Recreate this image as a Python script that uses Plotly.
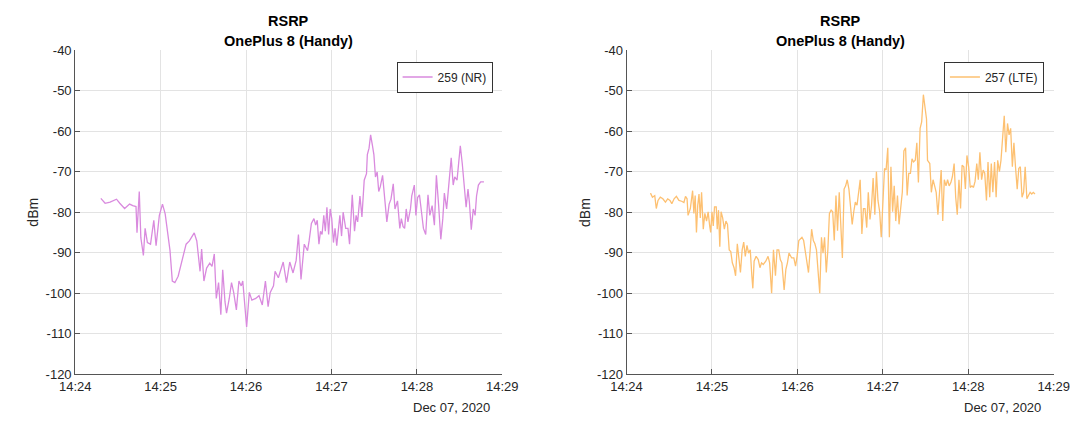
import pandas as pd
import plotly.graph_objects as go

# ---------------- data ----------------
START = "2020-12-07 14:24:00"
END = "2020-12-07 14:29:00"

# NR (259) – seconds after 14:24:00 and RSRP in dBm
nr_sec = [18, 21, 24.5, 29, 31.3, 34.7, 38.2, 40.4, 42.7,
          43.4, 45, 46.1, 47.9, 49.1, 50.7, 52.9, 55.2, 56.8, 59.1,
          61.3, 63.2, 65.4, 66.6, 68.2, 70, 72.3, 74.5, 76.3, 77.9,
          80.2, 83.6, 85.4, 87.7, 88.8, 90.4, 92.3, 94.5, 96.1, 97.7,
          99.1, 100.7, 102.3, 103.6, 105.2, 106.3, 108.2, 109.8, 111.3, 113.2,
          115, 116.6, 117.7, 118.9, 120.4, 122.3, 124.1, 126.8, 129.1, 131.4,
          133.6, 135.5, 137, 139.3, 140.4, 142.7, 146.1, 148.4, 150.7, 153,
          155.2, 156.8, 158.6, 160.9,
          163.2, 164.3, 165.9, 167.7, 168.9, 170, 171.2, 172.3, 173.4, 174.6,
          175.7, 176.8, 178, 179.1, 180.2, 181.4, 182.5, 183.7, 184.8, 185.9,
          187.1, 188.2, 190, 191.6, 192.7, 194.6, 196.2, 197.3, 198.4, 200,
          201.4, 203, 204.6, 205.2, 206.4, 207.5, 208.7, 209.8, 210.9, 212.1,
          213.2, 214.3, 215.9, 217.8, 218.9, 220.5, 221.8, 223.4, 224.6, 226.4,
          228, 229.1, 230.3, 231.4, 232.5, 233.7, 235.5, 236.4, 238.2, 239.3,
          240.5, 241.8, 243.2, 244.6, 246.2, 247.8, 249.1, 250.7, 252.3, 253.7,
          255.3, 256.8, 258.2, 259.3, 260.9, 262.8, 264.1, 265.5, 266.6, 268.2,
          269.6, 270.5, 271.9, 273, 274.6, 275.9, 276.9, 278.2, 279.6, 280.9,
          281.9, 283.2, 284.8, 287.1]
nr_dbm = [-76.6, -77.8, -77.5, -76.8, -77.8, -79.1, -78.0, -78.4, -78.6,
          -85.1, -74.9, -86.3, -90.7, -84.0, -87.5, -87.9, -82.0, -88.3, -80.8,
          -78.0, -80.4, -87.1, -89.5, -97.0, -97.4, -95.8, -92.6, -90.3, -87.9,
          -87.1, -85.1, -87.1, -94.6, -89.1, -97.0, -93.8, -92.6, -93.4, -90.3,
          -101.3, -97.4, -105.3, -94.2, -102.1, -104.9, -101.3, -97.4, -99.8, -104.1,
          -97.0, -98.2, -97.0, -102.1, -108.3, -99.8, -101.7, -101.3, -100.6, -102.9,
          -97.0, -103.3, -99.8, -98.2, -94.6, -96.2, -92.3, -97.4, -92.3, -95.0,
          -91.9, -85.5, -96.6, -87.9,
          -89.5, -87.1, -82.8, -81.6, -83.2, -82.0, -87.9, -84.7, -85.5, -80.8,
          -84.7, -78.8, -85.5, -79.2, -81.6, -87.5, -84.0, -88.3, -84.3, -80.8,
          -85.9, -80.0, -84.0, -84.0, -87.9, -75.7, -84.7, -80.8, -82.4, -76.0,
          -81.2, -72.1, -70.5, -65.8, -64.2, -60.9, -63.4, -65.8, -71.3, -70.1,
          -74.9, -73.7, -70.9, -79.2, -82.4, -78.0, -76.8, -73.0, -79.2, -77.2,
          -84.0, -81.6, -83.6, -84.0, -79.2, -82.4, -79.2, -76.0, -73.3, -80.8,
          -76.4, -75.7, -80.8, -84.0, -85.5, -75.7, -80.8, -78.4, -83.2, -70.9,
          -78.4, -86.7, -81.6, -75.3, -79.2, -70.5, -66.6, -73.3, -71.3, -72.1,
          -65.8, -63.6, -68.1, -72.5, -78.8, -74.3, -77.6, -84.3, -79.2, -80.8,
          -76.0, -73.3, -72.5, -72.5]

# LTE (257) – seconds after 14:24:00 and RSRP in dBm
lte_sec = [16.8, 18.2, 19.8, 20.9, 22.1, 23.7, 25.5, 27.3, 28.9, 30.5,
           31.8, 33.4, 35, 36.8, 38.7, 40.3, 41.4, 42.5, 43.2, 44.8,
           46.4, 47.3, 48.2, 49.1, 50, 50.9, 51.8, 52.7, 53.9, 55,
           56.2, 57.3, 58.4, 59.1, 60, 60.9, 61.8, 63, 63.7, 64.6,
           65.5, 66.4, 67.5, 68.7, 69.8, 70.9, 72.1, 73.2, 74.3, 75.5,
           76.6, 77.8, 78.9, 80, 81.2, 82.3, 83.4, 84.6, 85.7, 86.9,
           88, 88.7, 89.6, 91, 92.5, 93.7, 94.8, 96, 97.8, 99.4,
           100.5, 101.9, 103.2, 104.6, 105.7, 106.9, 108, 109.1, 110.7, 111.9,
           113, 114.1, 116, 117.5, 118.7, 119.8, 121, 122.1, 123.2, 124.4,
           126, 127.8, 128.9, 130, 131.2, 132.3, 133.4, 134.6, 135.7, 136.9,
           138, 139.1, 140.3, 141.4, 142.5, 143.7, 144.8, 145.9, 147.1, 148.2,
           149.4,
           151.6, 152.8, 153.9, 155, 156.2, 157.3, 158.5, 159.6, 160.7, 161.9,
           163, 164.1, 165.3, 166.4, 167.5, 168.7, 169.8, 171, 172.1, 173.2,
           174.4, 175.5, 176.6, 177.8, 178.9, 180, 181.2, 182.3, 183.5, 184.6,
           185.7, 186.9, 188, 189.1, 190.3, 191.4, 192.5, 193.7, 194.8, 196,
           197.1, 198.2, 199.4, 200.5, 201.6, 202.8, 203.9, 205, 206.2, 207.3,
           208.5, 209.6, 210.7, 211.4, 213, 214.1, 215.3, 216.4, 217.5, 218.7,
           219.8, 221, 222.1, 223.2, 224.4, 225.5, 226.6, 227.8, 228.9, 230.1,
           231.2, 232.3, 233.5, 234.6, 235.7, 236.9, 238, 239.1, 240.3, 241.4,
           242.6, 243.7, 244.8, 246, 247.1, 248.2, 249.4, 250.5, 251.6, 252.8,
           253.9, 255.1, 256.2, 257.3, 258.5, 259.6, 260.7, 261.9, 263, 264.1,
           265.3, 266.4, 267.6, 268.7, 269.8, 271, 272.1, 273.2, 274.4, 275.5,
           276.6, 277.8, 278.9, 280, 281.2, 282.3, 283.5, 284.6, 285.7, 286.9]
lte_dbm = [-75.3, -76.3, -75.9, -79.1, -77.1, -76.3, -76.7, -77.5, -76.7, -77.1,
           -77.9, -76.7, -76.1, -77.1, -77.3, -77.6, -76.1, -76.7, -80.8, -79.1,
           -74.7, -80.3, -75.9, -85.0, -78.3, -75.5, -81.4, -75.1, -84.2, -80.3,
           -82.2, -79.9, -83.4, -85.0, -79.9, -83.4, -78.7, -78.7, -84.2, -79.5,
           -88.5, -79.9, -81.4, -84.2, -82.2, -83.0, -89.3, -89.7, -92.5, -93.7,
           -95.7, -87.8, -91.3, -94.9, -89.3, -87.4, -90.9, -88.2, -90.1, -89.3,
           -95.7, -98.8, -92.1, -90.9, -91.7, -93.7, -92.5, -92.9, -92.1, -90.9,
           -92.5, -100.0, -89.3, -95.7, -89.3, -89.3, -91.7, -92.5, -99.2, -94.1,
           -92.5, -90.1, -91.3, -91.3, -93.3, -90.9, -87.0, -86.6, -86.2, -87.0,
           -91.3, -94.9, -89.7, -84.2, -87.0, -87.8, -89.3, -94.9, -100.0, -86.2,
           -90.1, -86.2, -94.9, -89.3, -80.3, -79.5, -79.9, -87.0, -75.9, -84.6,
           -75.1,
           -91.3, -74.3, -73.5, -72.0, -74.3, -79.1, -83.0, -79.9, -77.5, -78.3,
           -74.3, -72.0, -85.4, -79.1, -79.1, -83.8, -75.1, -81.8, -78.3, -71.6,
           -80.6, -70.0, -77.1, -79.9, -86.2, -75.9, -69.2, -69.6, -64.1, -86.2,
           -68.8, -79.9, -73.5, -82.2, -75.9, -83.0, -79.9, -75.1, -64.9, -64.1,
           -75.9, -70.4, -70.4, -66.8, -67.6, -67.2, -62.9, -72.7, -59.3, -57.7,
           -51.0, -53.8, -57.0, -67.2, -68.0, -75.1, -72.0, -73.5, -75.1, -80.6,
           -75.1, -69.6, -82.2, -72.0, -73.5, -72.0, -73.5, -72.7, -71.2, -68.0,
           -76.3, -80.6, -72.0, -79.1, -68.4, -68.8, -74.3, -66.0, -68.8, -73.9,
           -73.5, -73.9, -72.4, -68.0, -72.0, -65.2, -72.0, -69.6, -70.4, -77.1,
           -67.6, -76.3, -68.0, -75.1, -67.6, -76.3, -67.2, -70.0, -67.2, -62.5,
           -56.2, -65.2, -58.1, -60.9, -59.3, -68.8, -62.9, -68.8, -74.3, -69.2,
           -68.8, -76.3, -75.1, -68.8, -76.7, -75.9, -75.1, -75.5, -75.1, -75.5]

series_names = ["259 (NR)", "257 (LTE)"]
series_colors = ["#d98ade", "#fdc071"]
title_line1 = "RSRP"
title_line2 = "OnePlus 8 (Handy)"
y_label = "dBm"
date_label = "Dec 07, 2020"
y_tickvals = [-120, -110, -100, -90, -80, -70, -60, -50, -40]
y_ticktext = ["-120", "-110", "-100", "-90", "-80", "-70", "-60", "-50", "-40"]

# ---------------- figure ----------------
W, H = 1091, 424
base = pd.Timestamp(START)
nr_x = base + pd.to_timedelta(nr_sec, unit="s")
lte_x = base + pd.to_timedelta(lte_sec, unit="s")

FONT = "Liberation Sans, Arial, Helvetica, sans-serif"
AX_COL = "#555555"
GRID = "#e3e3e3"
TXT = "#262626"

# pixel geometry of the two axes boxes
boxes = [(61, 501), (629, 1069)]
top_px, bot_px = 44.7, 380.7

fig = go.Figure()
fig.add_trace(go.Scatter(x=nr_x, y=nr_dbm, mode="lines", name=series_names[0],
                         line=dict(color=series_colors[0], width=1.3),
                         xaxis="x", yaxis="y", legend="legend"))
fig.add_trace(go.Scatter(x=lte_x, y=lte_dbm, mode="lines", name=series_names[1],
                         line=dict(color=series_colors[1], width=1.3),
                         xaxis="x2", yaxis="y2", legend="legend2"))

ydom = [1 - bot_px / H, 1 - top_px / H]
common_x = dict(type="date", range=[START, END], dtick=60000, tickformat="%H:%M",
                showgrid=True, gridcolor=GRID, gridwidth=1,
                showline=True, linecolor=AX_COL, linewidth=1,
                ticks="inside", ticklen=5, tickcolor=AX_COL, tickwidth=1,
                tickfont=dict(family=FONT, size=13, color=TXT),
                zeroline=False, fixedrange=True)
common_y = dict(range=[-120, -40], tickvals=y_tickvals, ticktext=y_ticktext,
                showgrid=True, gridcolor=GRID, gridwidth=1,
                showline=True, linecolor=AX_COL, linewidth=1,
                ticks="inside", ticklen=5, tickcolor=AX_COL, tickwidth=1,
                tickfont=dict(family=FONT, size=13, color=TXT),
                zeroline=False, fixedrange=True)

layout = dict(width=W, height=H, margin=dict(l=0, r=0, t=0, b=0),
              paper_bgcolor="white", plot_bgcolor="white",
              font=dict(family=FONT, color=TXT), showlegend=True)
layout["xaxis"] = dict(common_x, domain=[boxes[0][0] / W, boxes[0][1] / W], anchor="y")
layout["yaxis"] = dict(common_y, domain=ydom, anchor="x")
layout["xaxis2"] = dict(common_x, domain=[boxes[1][0] / W, boxes[1][1] / W], anchor="y2")
layout["yaxis2"] = dict(common_y, domain=ydom, anchor="x2")

leg_common = dict(bgcolor="white", bordercolor="#333333", borderwidth=1,
                  font=dict(family=FONT, size=12, color=TXT),
                  xanchor="right", yanchor="top", y=1 - 56.5 / H,
                  tracegroupgap=0, itemwidth=30)
layout["legend"] = dict(leg_common, x=(boxes[0][1] - 10) / W)
layout["legend2"] = dict(leg_common, x=(boxes[1][1] - 10) / W)
fig.update_layout(**layout)

annotations = []
for (l, r) in boxes:
    cx = (l + r) / 2 / W
    annotations.append(dict(text="<b>" + title_line1 + "</b>", x=cx, y=1 - 15 / H,
                            xref="paper", yref="paper", showarrow=False,
                            xanchor="center", yanchor="middle",
                            font=dict(family=FONT, size=14.5, color="#000000")))
    annotations.append(dict(text="<b>" + title_line2 + "</b>", x=cx, y=1 - 35 / H,
                            xref="paper", yref="paper", showarrow=False,
                            xanchor="center", yanchor="middle",
                            font=dict(family=FONT, size=14.5, color="#000000")))
    annotations.append(dict(text=y_label, x=(l - 43) / W, y=1 - (top_px + bot_px) / 2 / H,
                            xref="paper", yref="paper", showarrow=False, textangle=-90,
                            xanchor="center", yanchor="middle",
                            font=dict(family=FONT, size=14, color=TXT)))
    annotations.append(dict(text=date_label, x=(r - 11) / W, y=1 - 415 / H,
                            xref="paper", yref="paper", showarrow=False,
                            xanchor="right", yanchor="middle",
                            font=dict(family=FONT, size=13, color=TXT)))
fig.update_layout(annotations=annotations)

fig.write_html("out.html")
